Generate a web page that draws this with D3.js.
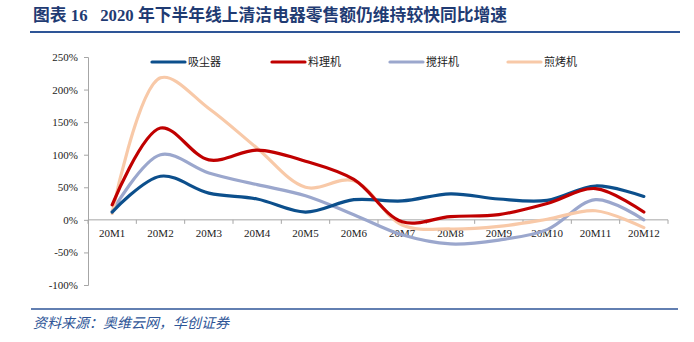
<html>
<head>
  <script src="https://d3js.org/d3.v7.min.js"></script>
  <style>
    body { margin: 0; background: #fff; }
    .axis text { font-family: "Liberation Serif", serif; font-size: 11px; fill: #222; }
    .axis path, .axis line { stroke: #a6a6a6; }
  </style>
</head>
<body>
<div id="chart"></div>
<script>
  // data
  var months = ["20M1", "20M2", "20M3", "20M4", "20M5", "20M6", "20M7", "20M8", "20M9", "20M10", "20M11", "20M12"];
  var names = ["吸尘器", "料理机", "搅拌机", "煎烤机"];
  var vacuum = [12, 67, 41, 32, 12, 31, 29, 40, 32, 30, 52, 36];
  var cooker = [23, 141, 92, 107, 90, 62, -3, 5, 8, 25, 48, 12];
  var blender = [13, 100, 72, 54, 37, 8, -23, -37, -31, -15, 31, 0];
  var grill = [10, 218, 171, 110, 50, 60, -8, -14, -10, 1, 14, -12];
  var yTicks = [-100, -50, 0, 50, 100, 150, 200, 250];
  var colors = ["#0c4f8c", "#c00000", "#9ba7cd", "#f8c9a8"];

  var series = [vacuum, cooker, blender, grill];

  var W = 694, H = 342;
  var svg = d3.select("#chart").append("svg")
    .attr("width", W).attr("height", H);

  // title
  svg.append("text")
    .attr("x", 33).attr("y", 21)
    .style("white-space", "pre")
    .style("font-family", "'Liberation Serif', 'Noto Sans CJK SC'")
    .style("font-weight", "bold")
    .style("font-size", "16.8px")
    .style("fill", "#1f3b73")
    .text("图表 16   2020 年下半年线上清洁电器零售额仍维持较快同比增速");
  svg.append("line")
    .attr("x1", 30).attr("x2", 680).attr("y1", 32).attr("y2", 32)
    .style("stroke", "#2e5597").style("stroke-width", 2);

  var x = d3.scaleBand().domain(months).range([88, 668]);
  var y = d3.scaleLinear().domain([-100, 250]).range([285, 57]);

  // y axis
  svg.append("g")
    .attr("class", "axis")
    .attr("transform", "translate(88,0)")
    .call(d3.axisLeft(y).tickValues(yTicks).tickSize(4).tickPadding(6)
      .tickFormat(function (d) { return d + "%"; }));

  // x axis at 0
  var xa = svg.append("g")
    .attr("class", "axis")
    .attr("transform", "translate(0," + y(0) + ")")
    .call(d3.axisBottom(x).tickSize(0).tickPadding(9).tickSizeOuter(0));
  xa.selectAll("path").remove();
  xa.append("line").attr("x1", 88).attr("x2", 668).attr("y1", 0).attr("y2", 0);
  xa.selectAll(".sep")
    .data(d3.range(months.length + 1))
    .enter().append("line")
    .attr("x1", function (i) { return 88 + i * x.step(); })
    .attr("x2", function (i) { return 88 + i * x.step(); })
    .attr("y1", 0).attr("y2", 4);

  var line = d3.line()
    .x(function (d, i) { return x(months[i]) + x.bandwidth() / 2; })
    .y(function (d) { return y(d); })
    .curve(d3.curveCatmullRom.alpha(0.5));

  // draw order: blender, grill, vacuum, cooker
  [2, 3, 0, 1].forEach(function (k) {
    svg.append("path")
      .attr("d", line(series[k]))
      .style("fill", "none")
      .style("stroke", colors[k])
      .style("stroke-width", 3.2)
      .style("stroke-linecap", "round");
  });

  // legend
  var legX = [152, 272, 390, 508];
  names.forEach(function (n, k) {
    svg.append("line")
      .attr("x1", legX[k]).attr("x2", legX[k] + 33)
      .attr("y1", 62).attr("y2", 62)
      .style("stroke", colors[k]).style("stroke-width", 3.2)
      .style("stroke-linecap", "round");
    svg.append("text")
      .attr("x", legX[k] + 36).attr("y", 66)
      .style("font-family", "'Noto Sans CJK SC'")
      .style("font-size", "11px")
      .style("fill", "#222")
      .text(n);
  });

  // source
  svg.append("line")
    .attr("x1", 31).attr("x2", 678).attr("y1", 309).attr("y2", 309)
    .style("stroke", "#2e5597").style("stroke-width", 1.5);
  svg.append("text")
    .attr("x", 33).attr("y", 328)
    .style("font-family", "'Noto Sans CJK SC'")
    .style("font-style", "italic")
    .style("font-size", "14px")
    .style("fill", "#2e5597")
    .text("资料来源：奥维云网，华创证券");
</script>
</body>
</html>
